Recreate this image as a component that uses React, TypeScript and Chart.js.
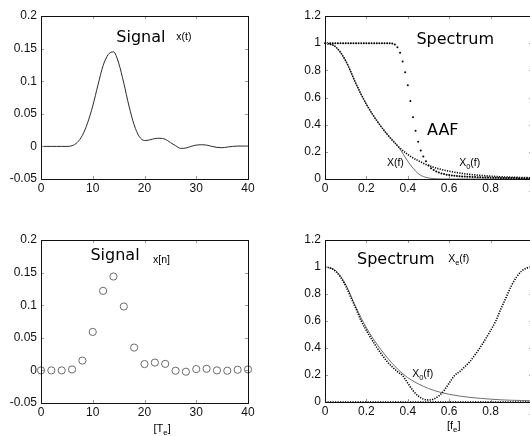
import React, { useEffect, useRef } from "react";
import { Chart, registerables } from "chart.js";

Chart.register(...registerables);

// ---------- data ----------
const signalT = [0, 1, 2, 3, 4, 5, 6, 7, 8, 9, 10, 11, 12, 13, 14, 15, 16, 17, 18, 19, 20, 21, 22, 23, 24, 25, 26, 27, 28, 29, 30, 31, 32, 33, 34, 35, 36, 37, 38, 39, 40];
const signalX = [0, 0, 0, 0, 0, 0, 0.001, 0.006, 0.017, 0.036, 0.062, 0.094, 0.124, 0.141, 0.145, 0.128, 0.097, 0.062, 0.033, 0.015, 0.009, 0.01, 0.012, 0.0125, 0.011, 0.006, 0.001, -0.003, -0.0025, 0, 0.002, 0.0025, 0.002, 0, -0.0015, -0.002, -0.001, 0, 0.0005, 0.0005, 0.0005];

const sampleT = [0, 2, 4, 6, 8, 10, 12, 14, 16, 18, 20, 22, 24, 26, 28, 30, 32, 34, 36, 38, 40];
const sampleX = [0, 0, 0, 0.0015, 0.015, 0.059, 0.122, 0.144, 0.098, 0.035, 0.0097, 0.012, 0.01, -0.0005, -0.002, 0.002, 0.0025, 0, -0.0005, 0.001, 0.0015];

// anti-aliasing filter, sampled every 1/80
const aafStep = 0.0125;
const aafValues = [
  1, 1, 1, 1, 1, 1, 1, 1, 1, 1,
  1, 1, 1, 1, 1, 1, 1, 1, 1, 1,
  1, 1, 1, 1, 1, 1, 0.997, 0.99, 0.97, 0.93,
  0.865, 0.785, 0.69, 0.575, 0.455, 0.355, 0.275, 0.21, 0.165, 0.13,
  0.1, 0.08, 0.066, 0.055, 0.047, 0.041, 0.036, 0.032, 0.029, 0.026,
  0.024, 0.022, 0.02, 0.019, 0.018, 0.017, 0.016, 0.015, 0.014, 0.013,
  0.012, 0.0115, 0.011, 0.0105, 0.01, 0.0095, 0.009, 0.0085, 0.008, 0.0078,
  0.0075, 0.0072, 0.007, 0.0068, 0.0065, 0.0062, 0.006, 0.0058, 0.0056, 0.0054,
  0.005,
];

// original spectrum X0(f)
const x0Freq = [0, 0.05, 0.1, 0.15, 0.2, 0.25, 0.3, 0.35, 0.4, 0.45, 0.5, 0.55, 0.6, 0.65, 0.7, 0.75, 0.8, 0.85, 0.9, 0.95, 1.0];
const x0Values = [1.0, 0.975, 0.87, 0.7, 0.55, 0.43, 0.33, 0.245, 0.18, 0.135, 0.1, 0.075, 0.057, 0.044, 0.034, 0.027, 0.021, 0.016, 0.013, 0.011, 0.009];

// filtered spectrum X(f)
const xfFreq = [0, 0.05, 0.1, 0.15, 0.2, 0.25, 0.3, 0.35, 0.375, 0.4, 0.425, 0.45, 0.475, 0.5, 0.525, 0.55, 0.6, 0.7, 0.8, 0.9, 1.0];
const xfValues = [1.0, 0.975, 0.87, 0.7, 0.55, 0.43, 0.33, 0.245, 0.19, 0.13, 0.08, 0.04, 0.018, 0.008, 0.003, 0.001, 0, 0, 0, 0, 0];

// periodised spectrum Xe(f)
const xeFreq = [0, 0.025, 0.05, 0.075, 0.1, 0.125, 0.15, 0.175, 0.2, 0.225, 0.25, 0.275, 0.3, 0.325, 0.35, 0.375, 0.4, 0.425, 0.45, 0.475, 0.5, 0.525, 0.55, 0.575, 0.6, 0.625, 0.65, 0.675, 0.7, 0.725, 0.75, 0.775, 0.8, 0.825, 0.85, 0.875, 0.9, 0.925, 0.95, 0.975, 1.0];
const xeValues = [1.0, 0.993, 0.97, 0.925, 0.86, 0.775, 0.69, 0.6, 0.53, 0.465, 0.405, 0.35, 0.3, 0.26, 0.225, 0.195, 0.14, 0.085, 0.045, 0.022, 0.015, 0.022, 0.045, 0.085, 0.14, 0.195, 0.225, 0.26, 0.3, 0.35, 0.405, 0.465, 0.53, 0.6, 0.69, 0.775, 0.86, 0.925, 0.97, 0.993, 1.0];

const zeroFreq = [0, 1];
const zeroValues = [0, 0];

const signalTicks = { min: -0.05, max: 0.2, step: 0.05 };
const spectrumTicks = { min: 0, max: 1.2, step: 0.2 };
const timeTicks = { min: 0, max: 40, step: 10 };
const freqTicks = { min: 0, max: 1, step: 0.2 };

// ---------- helpers ----------
type Part = { t: string; sub?: boolean };
type Ann = { parts: Part[]; x: number; y: number; size: number; family: string };
type XTitle = { parts: Part[]; x: number; dy: number; size: number };

const pts = (xs: number[], ys: number[]) => xs.map((x, i) => ({ x, y: ys[i] }));
const fmt = (v: any) => String(Math.round(Number(v) * 1000) / 1000);

function drawParts(ctx: CanvasRenderingContext2D, parts: Part[], cx: number, cy: number, size: number, family: string) {
  const subSize = size * 0.72;
  let total = 0;
  const widths = parts.map((p) => {
    ctx.font = `${p.sub ? subSize : size}px ${family}`;
    const w = ctx.measureText(p.t).width;
    total += w;
    return w;
  });
  let x = cx - total / 2;
  ctx.textAlign = "left";
  ctx.textBaseline = "middle";
  ctx.fillStyle = "#000";
  parts.forEach((p, i) => {
    ctx.font = `${p.sub ? subSize : size}px ${family}`;
    ctx.fillText(p.t, x, p.sub ? cy + size * 0.35 : cy);
    x += widths[i];
  });
}

function makeDecor(anns: Ann[], xTitle?: XTitle) {
  return {
    id: "decor",
    afterDraw(chart: any) {
      const { ctx, chartArea: a, scales } = chart;
      const xs = scales.x;
      const ys = scales.y;
      ctx.save();
      // inward ticks on all four sides
      ctx.strokeStyle = "#9a9a9a";
      ctx.lineWidth = 1;
      ctx.beginPath();
      xs.ticks.forEach((t: any) => {
        const px = Math.round(xs.getPixelForValue(t.value)) + 0.5;
        ctx.moveTo(px, a.bottom);
        ctx.lineTo(px, a.bottom - 3);
        ctx.moveTo(px, a.top);
        ctx.lineTo(px, a.top + 3);
      });
      ys.ticks.forEach((t: any) => {
        const py = Math.round(ys.getPixelForValue(t.value)) + 0.5;
        ctx.moveTo(a.left, py);
        ctx.lineTo(a.left + 3, py);
        ctx.moveTo(a.right, py);
        ctx.lineTo(a.right - 3, py);
      });
      ctx.stroke();
      // frame
      ctx.strokeStyle = "#111";
      ctx.strokeRect(Math.round(a.left) + 0.5, Math.round(a.top) + 0.5, Math.round(a.right - a.left), Math.round(a.bottom - a.top));
      // annotations
      anns.forEach((an) => {
        drawParts(ctx, an.parts, xs.getPixelForValue(an.x), ys.getPixelForValue(an.y), an.size, an.family);
      });
      if (xTitle) {
        drawParts(ctx, xTitle.parts, xs.getPixelForValue(xTitle.x), a.bottom + xTitle.dy, xTitle.size, "'Liberation Sans', Arial, sans-serif");
      }
      ctx.restore();
    },
  };
}

const tickFont = { family: "'Liberation Sans', Arial, sans-serif", size: 12 };

function makeOptions(xt: any, yt: any, yW: number, xH: number, padding: any) {
  return {
    animation: false,
    responsive: false,
    maintainAspectRatio: false,
    layout: { padding },
    plugins: { legend: { display: false }, tooltip: { enabled: false } },
    scales: {
      x: {
        type: "linear",
        min: xt.min,
        max: xt.max,
        ticks: { stepSize: xt.step, font: tickFont, color: "#111", padding: 2, maxRotation: 0, autoSkip: false, callback: fmt },
        grid: { display: false, drawTicks: false },
        border: { display: false },
        afterFit: (s: any) => {
          s.height = xH;
        },
      },
      y: {
        type: "linear",
        min: yt.min,
        max: yt.max,
        ticks: { stepSize: yt.step, font: tickFont, color: "#111", padding: 4, autoSkip: false, callback: fmt },
        grid: { display: false, drawTicks: false },
        border: { display: false },
        afterFit: (s: any) => {
          s.width = yW;
        },
      },
    },
  };
}

const BIG = "'DejaVu Sans', Verdana, sans-serif";
const SMALL = "'Liberation Sans', Arial, sans-serif";

type Spec = {
  left: number;
  top: number;
  width: number;
  height: number;
  config: () => any;
};

const specs: Spec[] = [
  {
    left: 0,
    top: 0,
    width: 265,
    height: 218,
    config: () => ({
      type: "line",
      data: {
        datasets: [
          {
            data: pts(signalT, signalX),
            borderColor: "#2a2a2a",
            borderWidth: 1,
            pointRadius: 0,
            cubicInterpolationMode: "monotone",
          },
        ],
      },
      options: makeOptions(timeTicks, signalTicks, 41, 39, { top: 16, right: 17, left: 0, bottom: 0 }),
      plugins: [
        makeDecor([
          { parts: [{ t: "Signal" }], x: 19.3, y: 0.166, size: 16, family: BIG },
          { parts: [{ t: "x(t)" }], x: 27.6, y: 0.167, size: 10.5, family: SMALL },
        ]),
      ],
    }),
  },
  {
    left: 265,
    top: 0,
    width: 295,
    height: 218,
    config: () => ({
      type: "line",
      data: {
        datasets: [
          {
            data: aafValues.map((v, i) => ({ x: i * aafStep, y: v })),
            showLine: false,
            pointRadius: 1,
            pointBorderWidth: 0,
            pointBackgroundColor: "#000",
            clip: 3,
          },
          {
            data: pts(x0Freq, x0Values),
            borderColor: "#000",
            borderWidth: 1.6,
            borderDash: [1.2, 1.3],
            pointRadius: 0,
            cubicInterpolationMode: "monotone",
            clip: 3,
          },
          {
            data: pts(xfFreq, xfValues),
            borderColor: "#6e6e6e",
            borderWidth: 1,
            pointRadius: 0,
            cubicInterpolationMode: "monotone",
          },
        ],
      },
      options: makeOptions(freqTicks, spectrumTicks, 60, 39, { top: 16, right: 28, left: 0, bottom: 0 }),
      plugins: [
        makeDecor([
          { parts: [{ t: "Spectrum" }], x: 0.629, y: 1.026, size: 16, family: BIG },
          { parts: [{ t: "AAF" }], x: 0.569, y: 0.353, size: 16, family: BIG },
          { parts: [{ t: "X(f)" }], x: 0.34, y: 0.118, size: 10.5, family: SMALL },
          { parts: [{ t: "X" }, { t: "0", sub: true }, { t: "(f)" }], x: 0.699, y: 0.118, size: 10.5, family: SMALL },
        ]),
      ],
    }),
  },
  {
    left: 0,
    top: 218,
    width: 265,
    height: 218,
    config: () => ({
      type: "line",
      data: {
        datasets: [
          {
            data: pts(sampleT, sampleX),
            showLine: false,
            pointRadius: 3.6,
            pointBorderWidth: 1,
            pointBorderColor: "#6a6a6a",
            pointBackgroundColor: "rgba(0,0,0,0)",
            clip: 6,
          },
        ],
      },
      options: makeOptions(timeTicks, signalTicks, 41, 33, { top: 22, right: 17, left: 0, bottom: 0 }),
      plugins: [
        makeDecor(
          [
            { parts: [{ t: "Signal" }], x: 14.3, y: 0.175, size: 16, family: BIG },
            { parts: [{ t: "x[n]" }], x: 23.3, y: 0.169, size: 10.5, family: SMALL },
          ],
          { parts: [{ t: "[T" }, { t: "e", sub: true }, { t: "]" }], x: 23.4, dy: 26, size: 11 }
        ),
      ],
    }),
  },
  {
    left: 265,
    top: 218,
    width: 295,
    height: 218,
    config: () => ({
      type: "line",
      data: {
        datasets: [
          {
            data: pts(zeroFreq, zeroValues),
            borderColor: "#000",
            borderWidth: 1.6,
            borderDash: [1.2, 1.3],
            pointRadius: 0,
            clip: 3,
          },
          {
            data: pts(xeFreq, xeValues),
            borderColor: "#000",
            borderWidth: 1.6,
            borderDash: [1.2, 1.3],
            pointRadius: 0,
            cubicInterpolationMode: "monotone",
            clip: 3,
          },
          {
            data: pts(x0Freq, x0Values),
            borderColor: "#6e6e6e",
            borderWidth: 1,
            pointRadius: 0,
            cubicInterpolationMode: "monotone",
          },
        ],
      },
      options: makeOptions(freqTicks, spectrumTicks, 60, 34, { top: 22, right: 28, left: 0, bottom: 0 }),
      plugins: [
        makeDecor(
          [
            { parts: [{ t: "Spectrum" }], x: 0.342, y: 1.055, size: 16, family: BIG },
            { parts: [{ t: "X" }, { t: "e", sub: true }, { t: "(f)" }], x: 0.646, y: 1.06, size: 10.5, family: SMALL },
            { parts: [{ t: "X" }, { t: "0", sub: true }, { t: "(f)" }], x: 0.472, y: 0.207, size: 10.5, family: SMALL },
          ],
          { parts: [{ t: "[f" }, { t: "e", sub: true }, { t: "]" }], x: 0.622, dy: 24, size: 11 }
        ),
      ],
    }),
  },
];

function ChartBox({ spec }: { spec: Spec }) {
  const ref = useRef<HTMLCanvasElement | null>(null);
  useEffect(() => {
    if (!ref.current) return;
    const chart = new Chart(ref.current, spec.config());
    return () => chart.destroy();
  }, [spec]);
  return (
    <canvas
      ref={ref}
      width={spec.width}
      height={spec.height}
      style={{ position: "absolute", left: spec.left, top: spec.top, width: spec.width, height: spec.height }}
    />
  );
}

export default function App() {
  return (
    <div style={{ position: "absolute", left: 0, top: 0, width: 530, height: 436, overflow: "hidden", background: "#fff" }}>
      {specs.map((s, i) => (
        <ChartBox key={i} spec={s} />
      ))}
    </div>
  );
}
